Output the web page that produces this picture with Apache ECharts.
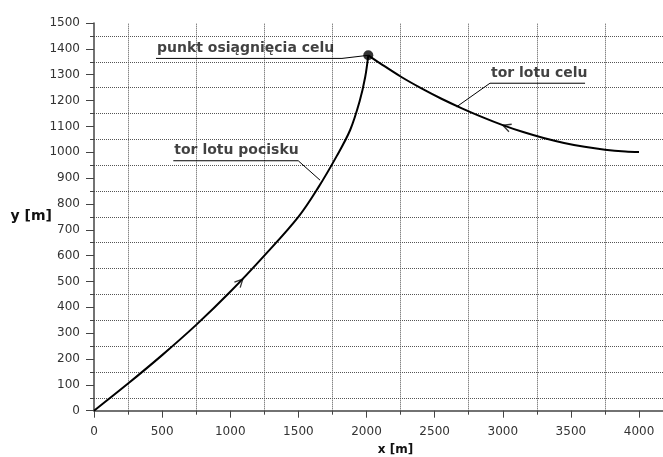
<!DOCTYPE html>
<html><head><meta charset="utf-8">
<script src="https://cdn.jsdelivr.net/npm/echarts@6/dist/echarts.min.js"></script>
<style>html,body{margin:0;padding:0;background:#fff}#c{width:663px;height:457px}</style>
</head><body><div id="c"></div>
<script>
// ---- data ----
const projectileX = [0, 250, 500, 750, 1000, 1250, 1500, 1650, 1780, 1880, 1950, 1990, 2013];
const projectileY = [0, 105, 215, 332, 460, 600, 750, 867, 984, 1086, 1198, 1290, 1375];
const targetX = [2013, 2100, 2250, 2400, 2550, 2700, 2850, 3000, 3150, 3300, 3450, 3600, 3750, 3900, 4000];
const targetY = [1375, 1344, 1293, 1248, 1207, 1170, 1136, 1105, 1078, 1055, 1036, 1021, 1010, 1003, 1001];
const hitPoint = [2013, 1375];
const xTickLabels = [0, 500, 1000, 1500, 2000, 2500, 3000, 3500, 4000];
const xGridValues = [250, 750, 1250, 1750, 2250, 2750, 3250, 3750];
const yTickLabels = [0, 100, 200, 300, 400, 500, 600, 700, 800, 900, 1000, 1100, 1200, 1300, 1400, 1500];
// annotations (data units): underline from noteStartX to noteEndX, joined to pointer
const noteTexts = ['punkt osiągnięcia celu', 'tor lotu pocisku', 'tor lotu celu'];
const noteStartX = [455, 582, 2906];
const noteEndX = [1820, 1499, 3604];
const noteY = [1363, 967, 1267];
const noteJoinAtStart = [false, false, true];
const notePtrX = [2013, 1659, 2662];
const notePtrY = [1375, 892, 1176];
// direction arrows on the paths
const arrowX = [1072, 3028];
const arrowY = [498, 1099];
const arrowAngle = [46, 160];

const zip = (a, b) => a.map((v, i) => [v, b[i]]);
const chart = echarts.init(document.getElementById('c'), null, {renderer: 'canvas'});
const FONT = 'DejaVu Sans';
const gridStyle = {type: 'dotted', color: '#555', width: 1};
const X_MAX = 4176;

const series = [
  {type: 'line', data: zip(projectileX, projectileY), smooth: 0.35, showSymbol: false,
   lineStyle: {color: '#000', width: 2}, z: 5,
   markLine: {silent: true, symbol: 'none', label: {show: false}, lineStyle: gridStyle, z: 1,
              data: xGridValues.map(v => ({xAxis: v}))}},
  {type: 'line', data: zip(targetX, targetY), smooth: 0.35, showSymbol: false,
   lineStyle: {color: '#000', width: 2}, z: 5},
  {type: 'scatter', data: [hitPoint], symbolSize: 10, itemStyle: {color: '#000'}, z: 6},
  {type: 'scatter', data: zip(arrowX, arrowY).map((p, i) => ({value: p, symbolRotate: arrowAngle[i]})),
   symbol: 'path://M0,0 L10,5 L0,10', symbolSize: [8, 8],
   itemStyle: {color: 'rgba(0,0,0,0)', borderColor: '#000', borderWidth: 1.3}, z: 7},
  {type: 'scatter', symbolSize: 0, z: 8,
   data: noteTexts.map((t, i) => ({name: t, value: [noteStartX[i], noteY[i]]})),
   label: {show: true, formatter: p => p.name, position: [1, -3], align: 'left', verticalAlign: 'bottom',
           fontFamily: FONT, fontWeight: 'bold', fontSize: 14, color: '#111'}}
];
noteTexts.forEach((t, i) => {
  const a = [noteStartX[i], noteY[i]], b = [noteEndX[i], noteY[i]], p = [notePtrX[i], notePtrY[i]];
  series.push({type: 'line', showSymbol: false, z: 4,
    data: noteJoinAtStart[i] ? [b, a, p] : [a, b, p],
    lineStyle: {color: '#000', width: 1}});
});

chart.setOption({
  animation: false,
  backgroundColor: '#fff',
  grid: {left: 94, top: 23, right: 0, bottom: 46.3, containLabel: false, outerBoundsMode: 'none'},
  xAxis: [{
    type: 'value', min: 0, max: X_MAX, interval: 500, position: 'bottom',
    name: 'x [m]', nameLocation: 'middle', nameGap: 33, nameMoveOverlap: false,
    nameTextStyle: {fontFamily: FONT, fontWeight: 'bold', fontSize: 12, color: '#111', padding: [0, 0, 0, 34]},
    axisLine: {lineStyle: {color: '#444', width: 1.5}},
    axisTick: {length: 7, customValues: xTickLabels, lineStyle: {color: '#444'}},
    minorTick: {show: false},
    splitLine: {show: false},
    minorSplitLine: {show: false},
    axisLabel: {margin: 15, fontFamily: FONT, fontSize: 12, color: '#333',
      customValues: xTickLabels, formatter: v => String(v)}
  }, {
    type: 'value', min: 0, max: X_MAX, position: 'bottom', offset: 0,
    axisLine: {show: false},
    axisTick: {show: true, length: 4, customValues: xGridValues, lineStyle: {color: '#444'}},
    axisLabel: {show: false},
    splitLine: {show: false}
  }],
  yAxis: {
    type: 'value', min: 0, max: 1500, interval: 100,
    name: 'y [m]', nameLocation: 'middle', nameGap: 42, nameRotate: 0, nameMoveOverlap: false,
    nameTextStyle: {fontFamily: FONT, fontWeight: 'bold', fontSize: 14, color: '#111', padding: [4, 0, 0, 0]},
    axisLine: {lineStyle: {color: '#444', width: 1.5}},
    axisTick: {length: 8, lineStyle: {color: '#444'}},
    minorTick: {show: true, splitNumber: 2, length: 4, lineStyle: {color: '#444'}},
    splitLine: {show: false},
    minorSplitLine: {show: true, lineStyle: gridStyle},
    axisLabel: {margin: 14, fontFamily: FONT, fontSize: 12, color: '#333',
      customValues: yTickLabels, formatter: v => String(v)}
  },
  series: series
});
</script></body></html>
